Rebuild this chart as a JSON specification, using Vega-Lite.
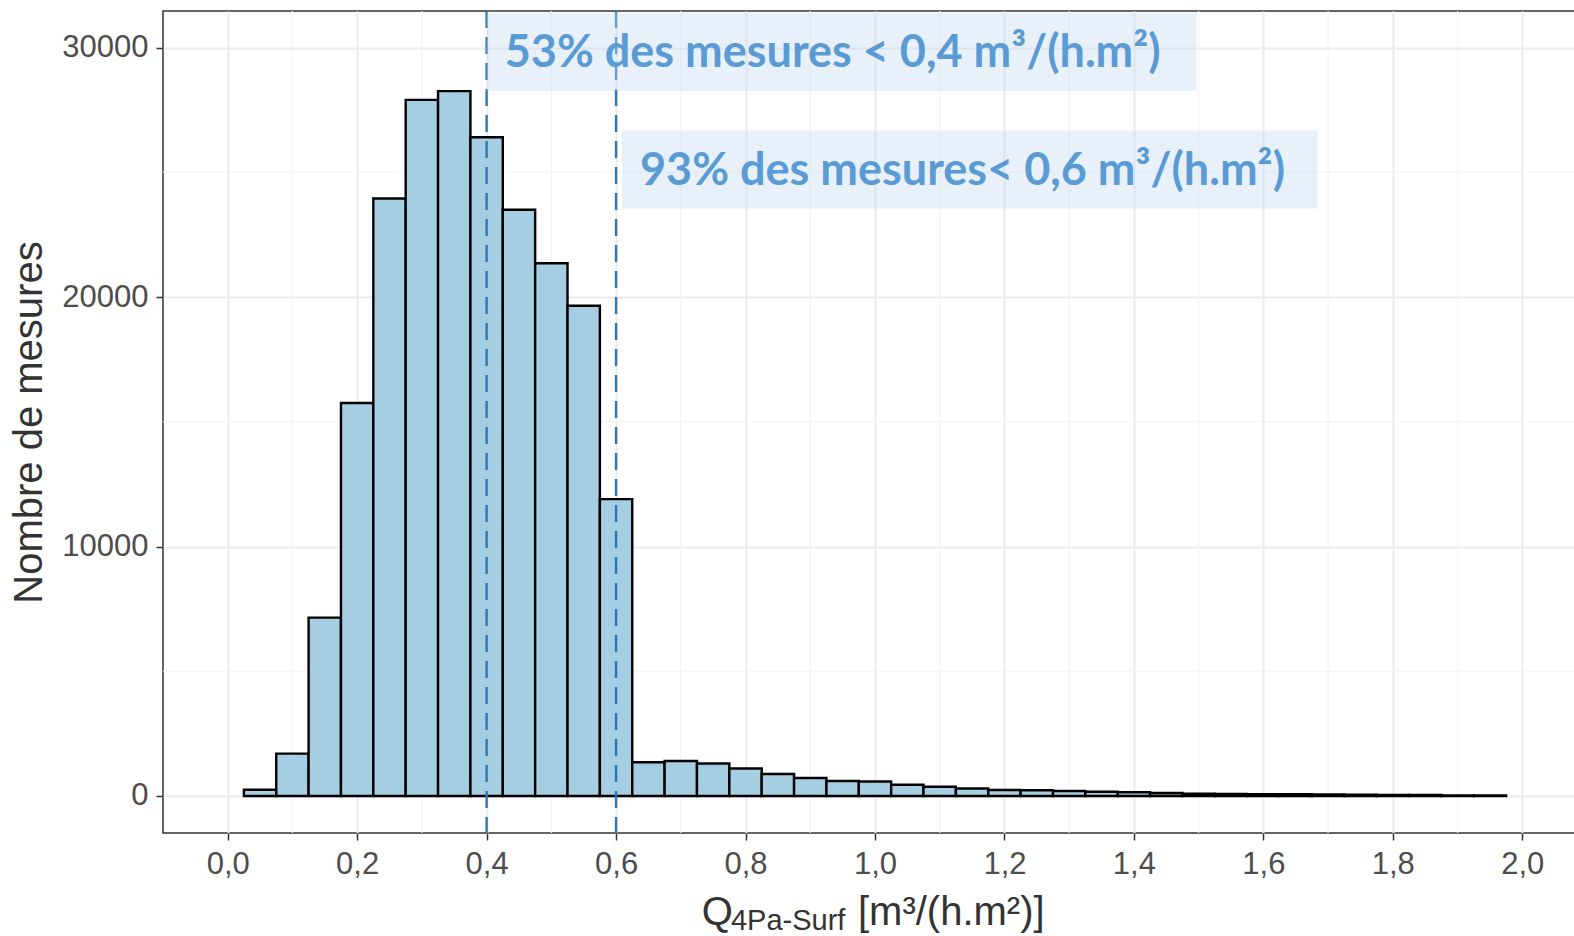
{
  "$schema": "https://vega.github.io/schema/vega-lite/v6.json",
  "autosize": {"type": "none"},
  "width": 1424,
  "height": 822,
  "padding": {"left": 163, "top": 11, "right": 0, "bottom": 103},
  "background": "white",
  "config": {
    "view": {"stroke": "#333333", "strokeWidth": 1.5},
    "font": "Liberation Sans",
    "axis": {
      "domain": false,
      "gridColor": "#ebebeb",
      "gridWidth": 2,
      "tickColor": "#333333",
      "tickWidth": 1.5,
      "tickSize": 7,
      "labelFont": "Liberation Sans",
      "labelFontSize": 31,
      "labelColor": "#4d4d4d",
      "titleFont": "Liberation Sans",
      "titleFontSize": 40,
      "titleFontWeight": "normal",
      "titleColor": "#333333"
    }
  },
  "datasets": {
    "hist": [
      {"start": 0.025, "end": 0.075, "count": 250},
      {"start": 0.075, "end": 0.125, "count": 1700},
      {"start": 0.125, "end": 0.175, "count": 7150},
      {"start": 0.175, "end": 0.225, "count": 15750},
      {"start": 0.225, "end": 0.275, "count": 23950},
      {"start": 0.275, "end": 0.325, "count": 27900},
      {"start": 0.325, "end": 0.375, "count": 28250},
      {"start": 0.375, "end": 0.425, "count": 26400},
      {"start": 0.425, "end": 0.475, "count": 23500},
      {"start": 0.475, "end": 0.525, "count": 21350},
      {"start": 0.525, "end": 0.575, "count": 19650},
      {"start": 0.575, "end": 0.625, "count": 11900},
      {"start": 0.625, "end": 0.675, "count": 1350},
      {"start": 0.675, "end": 0.725, "count": 1400},
      {"start": 0.725, "end": 0.775, "count": 1300},
      {"start": 0.775, "end": 0.825, "count": 1100},
      {"start": 0.825, "end": 0.875, "count": 880},
      {"start": 0.875, "end": 0.925, "count": 720},
      {"start": 0.925, "end": 0.975, "count": 600},
      {"start": 0.975, "end": 1.025, "count": 580},
      {"start": 1.025, "end": 1.075, "count": 450},
      {"start": 1.075, "end": 1.125, "count": 370},
      {"start": 1.125, "end": 1.175, "count": 300},
      {"start": 1.175, "end": 1.225, "count": 240},
      {"start": 1.225, "end": 1.275, "count": 230},
      {"start": 1.275, "end": 1.325, "count": 200},
      {"start": 1.325, "end": 1.375, "count": 170},
      {"start": 1.375, "end": 1.425, "count": 150},
      {"start": 1.425, "end": 1.475, "count": 120},
      {"start": 1.475, "end": 1.525, "count": 90},
      {"start": 1.525, "end": 1.575, "count": 80},
      {"start": 1.575, "end": 1.625, "count": 75},
      {"start": 1.625, "end": 1.675, "count": 70},
      {"start": 1.675, "end": 1.725, "count": 65},
      {"start": 1.725, "end": 1.775, "count": 50},
      {"start": 1.775, "end": 1.825, "count": 45},
      {"start": 1.825, "end": 1.875, "count": 40},
      {"start": 1.875, "end": 1.925, "count": 25},
      {"start": 1.925, "end": 1.975, "count": 20}
    ],
    "minorx": [
      {"v": 0.1}, {"v": 0.3}, {"v": 0.5}, {"v": 0.7}, {"v": 0.9},
      {"v": 1.1}, {"v": 1.3}, {"v": 1.5}, {"v": 1.7}, {"v": 1.9}
    ],
    "minory": [{"v": 5000}, {"v": 15000}, {"v": 25000}],
    "thresholds": [{"q": 0.4}, {"q": 0.6}]
  },
  "layer": [
    {
      "data": {"name": "minorx"},
      "mark": {"type": "rule", "color": "#f3f3f3", "strokeWidth": 1.2},
      "encoding": {
        "x": {
          "field": "v",
          "type": "quantitative",
          "scale": {"domain": [-0.09995, 2.1], "nice": false, "zero": false},
          "axis": {
            "values": [0, 0.2, 0.4, 0.6, 0.8, 1.0, 1.2, 1.4, 1.6, 1.8, 2.0],
            "labelExpr": "replace(format(datum.value, '.1f'), '.', ',')",
            "labelPadding": 9,
            "title": null
          }
        }
      }
    },
    {
      "data": {"name": "minory"},
      "mark": {"type": "rule", "color": "#f3f3f3", "strokeWidth": 1.2},
      "encoding": {
        "y": {
          "field": "v",
          "type": "quantitative",
          "scale": {"domain": [-1483, 31463], "nice": false, "zero": false},
          "axis": {
            "values": [0, 10000, 20000, 30000],
            "format": "d",
            "labelPadding": 8,
            "title": "Nombre de mesures",
            "titlePadding": 12
          }
        }
      }
    },
    {
      "data": {"name": "hist"},
      "mark": {"type": "rect", "fill": "#a6cee3", "stroke": "#000000", "strokeWidth": 2.4},
      "encoding": {
        "x": {"field": "start", "type": "quantitative"},
        "x2": {"field": "end"},
        "y": {"field": "count", "type": "quantitative"},
        "y2": {"datum": 0}
      }
    },
    {
      "data": {"name": "thresholds"},
      "mark": {"type": "rule", "color": "#2e75b6", "strokeWidth": 2.4, "strokeDash": [17, 9]},
      "encoding": {
        "x": {"field": "q", "type": "quantitative"}
      }
    },
    {
      "data": {"values": [{"label": "53% des mesures < 0,4 m³/(h.m²)"}]},
      "layer": [
        {
          "mark": {"type": "rect", "fill": "#c5dcf0", "opacity": 0.4},
          "encoding": {
            "x": {"datum": 0.4, "type": "quantitative"},
            "x2": {"datum": 1.497},
            "y": {"datum": 28257, "type": "quantitative"},
            "y2": {"datum": 31383}
          }
        },
        {
          "mark": {"type": "text", "align": "left", "baseline": "middle", "font": "Lato", "fontWeight": "bold", "fontSize": 45, "color": "#5b9bd5"},
          "encoding": {
            "x": {"datum": 0.428, "type": "quantitative"},
            "y": {"datum": 29780, "type": "quantitative"},
            "text": {"field": "label"}
          }
        }
      ]
    },
    {
      "data": {"values": [{"label": "93% des mesures< 0,6 m³/(h.m²)"}]},
      "layer": [
        {
          "mark": {"type": "rect", "fill": "#c5dcf0", "opacity": 0.4},
          "encoding": {
            "x": {"datum": 0.609, "type": "quantitative"},
            "x2": {"datum": 1.684},
            "y": {"datum": 23547, "type": "quantitative"},
            "y2": {"datum": 26673}
          }
        },
        {
          "mark": {"type": "text", "align": "left", "baseline": "middle", "font": "Lato", "fontWeight": "bold", "fontSize": 45, "color": "#5b9bd5"},
          "encoding": {
            "x": {"datum": 0.637, "type": "quantitative"},
            "y": {"datum": 25050, "type": "quantitative"},
            "text": {"field": "label"}
          }
        }
      ]
    },
    {
      "data": {"values": [{"label": "Q"}]},
      "mark": {"type": "text", "align": "left", "baseline": "alphabetic", "font": "Liberation Sans", "fontSize": 40, "color": "#333333"},
      "encoding": {
        "x": {"datum": 0.7323, "type": "quantitative"},
        "y": {"datum": -5170, "type": "quantitative"},
        "text": {"field": "label"}
      }
    },
    {
      "data": {"values": [{"label": "4Pa-Surf"}]},
      "mark": {"type": "text", "align": "left", "baseline": "alphabetic", "font": "Liberation Sans", "fontSize": 29, "color": "#333333"},
      "encoding": {
        "x": {"datum": 0.7775, "type": "quantitative"},
        "y": {"datum": -5370, "type": "quantitative"},
        "text": {"field": "label"}
      }
    },
    {
      "data": {"values": [{"label": "[m³/(h.m²)]"}]},
      "mark": {"type": "text", "align": "left", "baseline": "alphabetic", "font": "Liberation Sans", "fontSize": 40, "color": "#333333"},
      "encoding": {
        "x": {"datum": 0.9737, "type": "quantitative"},
        "y": {"datum": -5170, "type": "quantitative"},
        "text": {"field": "label"}
      }
    }
  ]
}
